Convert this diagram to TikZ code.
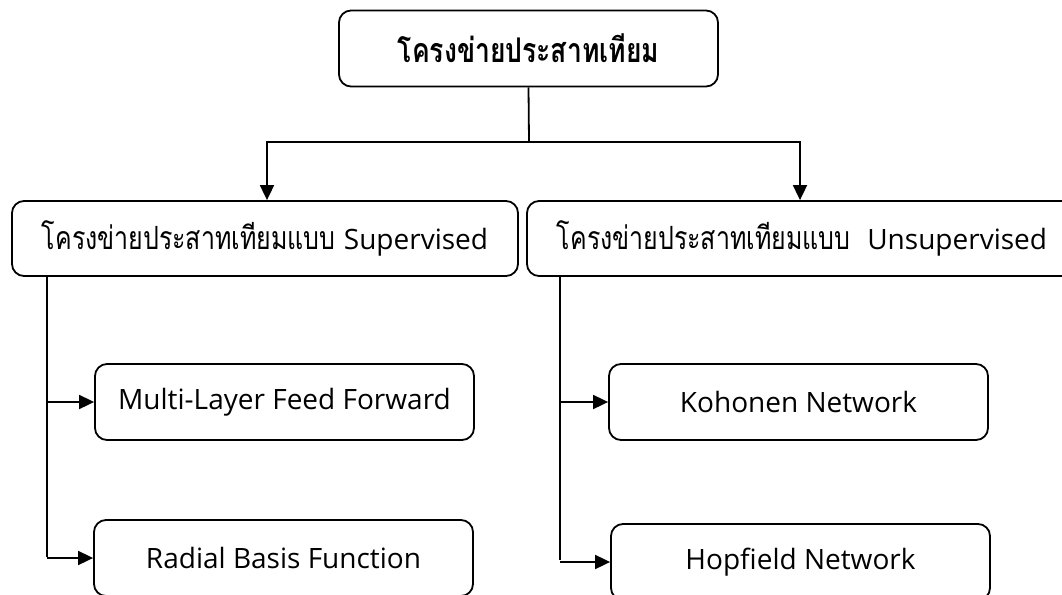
\documentclass[tikz,border=0pt]{standalone}
\usepackage{fontspec}
\setmainfont[Script=Thai,FakeStretch=0.78]{Loma}
\newfontfamily\lat{Open Sans}
\usetikzlibrary{arrows.meta}
\begin{document}
\begin{tikzpicture}[x=1pt,y=-1pt,
  box/.style={draw=black,line width=1.8pt,rounded corners=12pt,inner sep=0pt,align=center,font=\fontsize{32}{36}\selectfont},
  latf/.style={font=\lat\fontsize{28}{32}\selectfont},
  conn/.style={line width=1.8pt,-{Triangle[length=15pt,width=14pt]}},
  plain/.style={line width=1.8pt}]
\useasboundingbox (0,0) rectangle (1062,594);
\begin{scope}
\clip (0,0) rectangle (1062,594);
\node[box,minimum width=379pt,minimum height=76pt,font=\fontsize{34}{38}\selectfont\bfseries] (top) at (528.5,48.5) {โครงข่ายประสาทเทียม};
\node[box,minimum width=506pt,minimum height=75pt] (sup) at (265,238.5) {โครงข่ายประสาทเทียมแบบ {\lat\fontsize{28}{32}\selectfont Supervised}};
\node[box,minimum width=550pt,minimum height=75pt] (uns) at (802,238.5) {โครงข่ายประสาทเทียมแบบ\ \ {\lat\fontsize{28}{32}\selectfont Unsupervised}};
\node[box,latf,minimum width=379pt,minimum height=76pt] (mlf) at (284.5,402) {Multi-Layer Feed Forward};
\node[box,latf,minimum width=379pt,minimum height=76pt] (rbf) at (283.5,558) {Radial Basis Function};
\node[box,latf,minimum width=379pt,minimum height=76pt] (koh) at (798.5,402) {Kohonen Network};
\node[box,latf,minimum width=379pt,minimum height=76pt] (hop) at (800.5,562) {Hopfield Network};
\coordinate (j) at (529,142);
\draw[plain] (top.south) -- (j);
\draw[conn] (j) -| (sup.north -| 267,0);
\draw[conn] (j) -| (uns.north -| 800,0);
\coordinate (ls) at (47,276);
\coordinate (rs) at (560,276);
\draw[plain] (ls) -- (47,557);
\draw[conn] (ls |- mlf.west) -- (mlf.west);
\draw[conn] (ls |- rbf.west) -- (rbf.west);
\draw[plain] (rs) -- (560,560);
\draw[conn] (rs |- koh.west) -- (koh.west);
\draw[conn] (rs |- hop.west) -- (hop.west);
\end{scope}
\end{tikzpicture}
\end{document}
